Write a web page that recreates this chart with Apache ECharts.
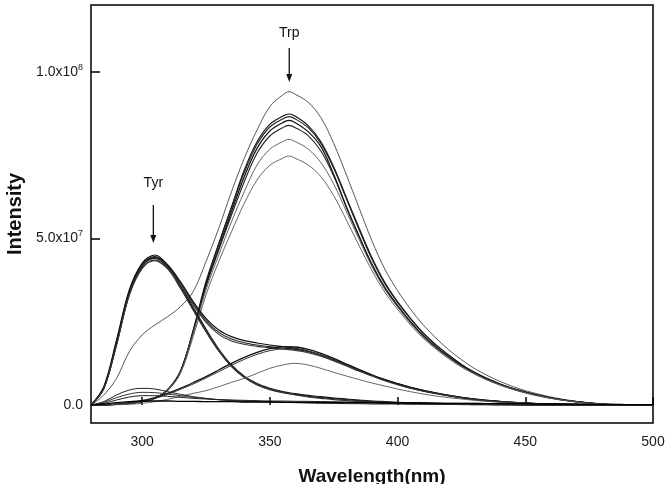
<!DOCTYPE html>
<html>
<head>
<meta charset="utf-8">
<script src="https://cdn.jsdelivr.net/npm/echarts@6/dist/echarts.min.js"></script>
<style>html,body{margin:0;padding:0;background:#fff;}#c{width:666px;height:484px;}</style>
</head>
<body>
<div id="c"></div>
<script>
// Wavelength grids (nm)
const wavelengths = [280,285,290,295,300,305,310,315,320,325,330,335,340,345,350,355,360,365,370,375,380,385,390,395,400,405,410,415,420,425,430,435,440,445,450,455,460,465,470,475,480,485,490,495,500];
const trpWavelengths = [280,285,290,295,300,305,310,315,320,325,330,335,340,345,350,355,357.5,360,365,370,375,380,385,390,395,400,405,410,415,420,425,430,435,440,445,450,455,460,465,470,475,480,485,490,495,500];
// Intensities in units of 1e7
const trp1 = [0,0.3,0.8,1.6,2.1,2.4,2.65,2.95,3.4,4.3,5.3,6.4,7.4,8.25,8.95,9.3,9.4,9.32,9.08,8.62,7.85,6.9,5.9,4.92,4.08,3.43,2.88,2.41,2.01,1.66,1.36,1.1,0.89,0.71,0.56,0.43,0.33,0.24,0.17,0.11,0.07,0.04,0.02,0.01,0,0];
const trp2 = [0,0,0.02,0.05,0.1,0.2,0.45,1.0,2.25,3.7,4.85,5.95,7.05,7.9,8.42,8.66,8.73,8.66,8.38,7.9,7.15,6.22,5.3,4.42,3.68,3.1,2.61,2.17,1.81,1.5,1.22,0.99,0.8,0.64,0.5,0.39,0.3,0.22,0.15,0.1,0.06,0.03,0.01,0,0,0];
const trp3 = [0,0,0.02,0.05,0.1,0.2,0.46,1.02,2.2,3.65,4.8,5.9,6.97,7.82,8.34,8.58,8.65,8.58,8.32,7.85,7.1,6.18,5.25,4.37,3.64,3.08,2.59,2.15,1.79,1.49,1.21,0.98,0.79,0.63,0.5,0.39,0.29,0.21,0.15,0.1,0.06,0.03,0.01,0,0,0];
const trp4 = [0,0,0.02,0.05,0.1,0.2,0.45,1.0,2.2,3.6,4.7,5.8,6.85,7.7,8.22,8.47,8.54,8.47,8.2,7.75,6.92,5.95,5.06,4.22,3.53,2.99,2.51,2.09,1.74,1.45,1.19,0.96,0.78,0.62,0.49,0.38,0.29,0.21,0.15,0.1,0.06,0.03,0.01,0,0,0];
const trp5 = [0,0,0.02,0.05,0.1,0.2,0.45,1.0,2.2,3.55,4.65,5.7,6.7,7.55,8.07,8.32,8.39,8.32,8.08,7.62,6.87,5.92,5.04,4.19,3.5,2.97,2.49,2.07,1.73,1.44,1.18,0.96,0.77,0.62,0.49,0.38,0.29,0.21,0.15,0.1,0.06,0.03,0.01,0,0,0];
const trp6 = [0,0,0.02,0.05,0.1,0.2,0.45,0.98,2.15,3.45,4.5,5.5,6.4,7.2,7.67,7.9,7.97,7.9,7.68,7.27,6.63,5.8,4.96,4.15,3.48,2.94,2.46,2.05,1.71,1.42,1.16,0.95,0.76,0.61,0.48,0.37,0.28,0.2,0.14,0.09,0.05,0.03,0.01,0,0,0];
const trp7 = [0,0,0.02,0.05,0.1,0.2,0.44,0.95,2.05,3.3,4.3,5.2,6.05,6.75,7.19,7.4,7.47,7.4,7.2,6.85,6.28,5.55,4.77,4.03,3.39,2.87,2.41,2.01,1.68,1.39,1.14,0.93,0.75,0.6,0.47,0.36,0.27,0.2,0.14,0.09,0.05,0.03,0.01,0,0,0];
const tyr1 = [0,0.55,1.95,3.45,4.25,4.5,4.2,3.6,2.92,2.28,1.68,1.2,0.86,0.64,0.5,0.4,0.34,0.29,0.25,0.21,0.18,0.15,0.12,0.1,0.08,0.07,0.06,0.05,0.04,0.03,0.03,0.02,0.02,0.01,0.01,0,0,0,0,0,0,0,0,0,0];
const tyr2 = [0,0.5,1.85,3.35,4.15,4.42,4.13,3.55,2.88,2.22,1.62,1.15,0.82,0.6,0.46,0.37,0.31,0.26,0.22,0.19,0.16,0.13,0.11,0.09,0.07,0.06,0.05,0.04,0.03,0.03,0.02,0.02,0.01,0.01,0,0,0,0,0,0,0,0,0,0,0];
const tyr3 = [0,0.5,1.8,3.3,4.1,4.35,4.08,3.5,2.84,2.2,1.62,1.17,0.85,0.63,0.48,0.38,0.3,0.24,0.2,0.16,0.13,0.11,0.09,0.07,0.06,0.05,0.04,0.03,0.02,0.02,0.01,0.01,0,0,0,0,0,0,0,0,0,0,0,0,0];
const mix1 = [0,0.52,1.9,3.42,4.22,4.45,4.2,3.7,3.1,2.6,2.25,2.05,1.93,1.86,1.8,1.75,1.7,1.62,1.5,1.36,1.21,1.05,0.9,0.76,0.64,0.53,0.44,0.36,0.29,0.23,0.18,0.14,0.11,0.08,0.06,0.04,0.03,0.02,0.01,0,0,0,0,0,0];
const mix2 = [0,0.5,1.85,3.38,4.18,4.4,4.16,3.66,3.05,2.54,2.18,1.98,1.87,1.8,1.75,1.71,1.67,1.6,1.49,1.35,1.2,1.04,0.89,0.75,0.63,0.52,0.43,0.35,0.28,0.22,0.17,0.13,0.1,0.08,0.06,0.04,0.03,0.02,0.01,0,0,0,0,0,0];
const mix3 = [0,0.48,1.8,3.3,4.1,4.33,4.1,3.6,3.0,2.48,2.12,1.92,1.82,1.76,1.72,1.68,1.64,1.57,1.46,1.32,1.17,1.01,0.87,0.73,0.61,0.5,0.41,0.34,0.27,0.21,0.16,0.12,0.09,0.07,0.05,0.03,0.02,0.01,0,0,0,0,0,0,0];
const small1 = [0,0,0.03,0.07,0.13,0.22,0.35,0.5,0.67,0.85,1.05,1.25,1.43,1.58,1.69,1.75,1.74,1.67,1.55,1.4,1.23,1.06,0.9,0.76,0.64,0.53,0.44,0.36,0.29,0.23,0.18,0.14,0.11,0.08,0.06,0.04,0.03,0.02,0.01,0,0,0,0,0,0];
const small2 = [0,0,0.03,0.06,0.12,0.2,0.32,0.47,0.63,0.81,1.0,1.19,1.37,1.52,1.63,1.68,1.68,1.62,1.5,1.36,1.2,1.03,0.88,0.74,0.62,0.51,0.42,0.35,0.28,0.22,0.17,0.13,0.1,0.08,0.06,0.04,0.03,0.02,0.01,0,0,0,0,0,0];
const small3 = [0,0,0.01,0.02,0.05,0.1,0.17,0.26,0.35,0.43,0.55,0.68,0.8,0.95,1.1,1.2,1.25,1.2,1.1,0.98,0.87,0.76,0.66,0.57,0.48,0.4,0.33,0.27,0.22,0.18,0.14,0.11,0.08,0.06,0.04,0.03,0.02,0.01,0.01,0,0,0,0,0,0];
const base1 = [0,0.1,0.3,0.45,0.5,0.48,0.4,0.32,0.25,0.2,0.16,0.13,0.11,0.1,0.09,0.08,0.07,0.06,0.05,0.05,0.04,0.04,0.03,0.03,0.03,0.02,0.02,0.02,0.02,0.01,0.01,0.01,0.01,0.01,0,0,0,0,0,0,0,0,0,0,0];
const base2 = [0,0.08,0.22,0.33,0.38,0.37,0.33,0.28,0.23,0.19,0.16,0.14,0.12,0.11,0.1,0.09,0.09,0.08,0.08,0.07,0.07,0.06,0.06,0.05,0.05,0.05,0.04,0.04,0.04,0.03,0.03,0.03,0.03,0.02,0.02,0.02,0.02,0.01,0.01,0.01,0.01,0,0,0,0];
const base3 = [0,0.05,0.15,0.24,0.28,0.28,0.26,0.23,0.2,0.18,0.16,0.15,0.14,0.13,0.12,0.12,0.11,0.11,0.1,0.1,0.09,0.09,0.08,0.08,0.07,0.07,0.06,0.06,0.05,0.05,0.05,0.04,0.04,0.04,0.03,0.03,0.03,0.02,0.02,0.02,0.01,0.01,0.01,0,0];
const base4 = [0,0.03,0.07,0.1,0.12,0.12,0.12,0.11,0.11,0.1,0.1,0.1,0.09,0.09,0.09,0.08,0.08,0.08,0.08,0.07,0.07,0.07,0.07,0.06,0.06,0.06,0.06,0.05,0.05,0.05,0.05,0.04,0.04,0.04,0.04,0.03,0.03,0.03,0.03,0.02,0.02,0.02,0.01,0.01,0.01];

const xTicks = [300,350,400,450,500];
const yTickValues = [0,5,10];
const yTickLabels = ['{b|0.0}','{b|5.0x10}{s|7}','{b|1.0x10}{s|8}'];
const annotations = [
  {text:'Trp', x:357.6, yText:11.16, yFrom:10.71, yTo:9.69},
  {text:'Tyr', x:304.4, yText:6.66, yFrom:6.0, yTo:4.86}
];

const curves = [
  {x:trpWavelengths,d:trp1,c:'#444',w:0.9},{x:trpWavelengths,d:trp2,c:'#111',w:1.1},{x:trpWavelengths,d:trp3,c:'#222',w:1.1},
  {x:trpWavelengths,d:trp4,c:'#111',w:1.2},{x:trpWavelengths,d:trp5,c:'#222',w:1.1},{x:trpWavelengths,d:trp6,c:'#555',w:0.9},
  {x:trpWavelengths,d:trp7,c:'#555',w:0.9},
  {d:tyr1,c:'#111',w:1.2},{d:tyr2,c:'#222',w:1.1},{d:tyr3,c:'#333',w:1.1},
  {d:mix1,c:'#111',w:1.2},{d:mix2,c:'#222',w:1.1},{d:mix3,c:'#333',w:1.1},
  {d:small1,c:'#111',w:1.3},{d:small2,c:'#333',w:1.0},{d:small3,c:'#555',w:0.9},
  {d:base1,c:'#222',w:1.0},{d:base2,c:'#333',w:1.0},{d:base3,c:'#222',w:1.0},{d:base4,c:'#000',w:1.4}
];

const FONT = '"Liberation Sans", Arial, Helvetica, sans-serif';
const chart = echarts.init(document.getElementById('c'), null, {renderer:'canvas'});
const series = curves.map(cv => {
  const xs = cv.x || wavelengths;
  return {
    type:'line', smooth:0.35, showSymbol:false, silent:true, animation:false,
    lineStyle:{color:cv.c, width:cv.w},
    data: xs.map((w,i)=>[w, cv.d[i]])
  };
});

chart.setOption({
  backgroundColor:'#fff',
  animation:false,
  grid:{left:91, right:13, top:5, bottom:61, containLabel:false, outerBoundsMode:'none',
    show:true, borderColor:'#000', borderWidth:1.5, backgroundColor:'transparent'},
  xAxis:{
    type:'value', min:280, max:500,
    axisLine:{show:false},
    splitLine:{show:false},
    axisTick:{show:true, inside:true, length:8, customValues:xTicks, lineStyle:{color:'#000', width:1.5}},
    axisLabel:{customValues:xTicks, margin:12, fontSize:14, color:'#1a1a1a', fontFamily:FONT},
    name:'Wavelength(nm)', nameLocation:'middle', nameGap:44,
    nameTextStyle:{fontSize:19, fontWeight:'bold', color:'#111', fontFamily:FONT}
  },
  yAxis:{
    type:'value', min:-0.54, max:12,
    axisLine:{show:false},
    splitLine:{show:false},
    axisTick:{show:true, inside:true, length:9, customValues:yTickValues, lineStyle:{color:'#000', width:1.5}},
    axisLabel:{customValues:yTickValues, margin:8, color:'#1a1a1a', fontFamily:FONT,
      formatter:(v)=>{const i=yTickValues.indexOf(v); return i>=0?yTickLabels[i]:'';},
      rich:{b:{fontSize:14, color:'#1a1a1a', fontFamily:FONT}, s:{fontSize:9, color:'#1a1a1a', fontFamily:FONT, padding:[0,0,9,0]}}
    },
    name:'Intensity', nameLocation:'middle', nameGap:64, nameRotate:90,
    nameTextStyle:{fontSize:20, fontWeight:'bold', color:'#111', fontFamily:FONT}
  },
  series: series
});

const g = [];
annotations.forEach(a=>{
  const pt = chart.convertToPixel({gridIndex:0},[a.x,a.yText]);
  const p1 = chart.convertToPixel({gridIndex:0},[a.x,a.yFrom]);
  const p2 = chart.convertToPixel({gridIndex:0},[a.x,a.yTo]);
  g.push({type:'text', x:pt[0], y:pt[1], style:{text:a.text, x:0, y:0, align:'center', verticalAlign:'middle', font:'14px '+FONT, fill:'#111'}});
  g.push({type:'line', shape:{x1:p1[0], y1:p1[1], x2:p2[0], y2:p2[1]-6}, style:{stroke:'#111', lineWidth:1.3}});
  g.push({type:'polygon', shape:{points:[[p2[0]-3,p2[1]-8],[p2[0]+3,p2[1]-8],[p2[0],p2[1]]]}, style:{fill:'#111'}});
});
chart.setOption({graphic:g});
</script>
</body>
</html>
